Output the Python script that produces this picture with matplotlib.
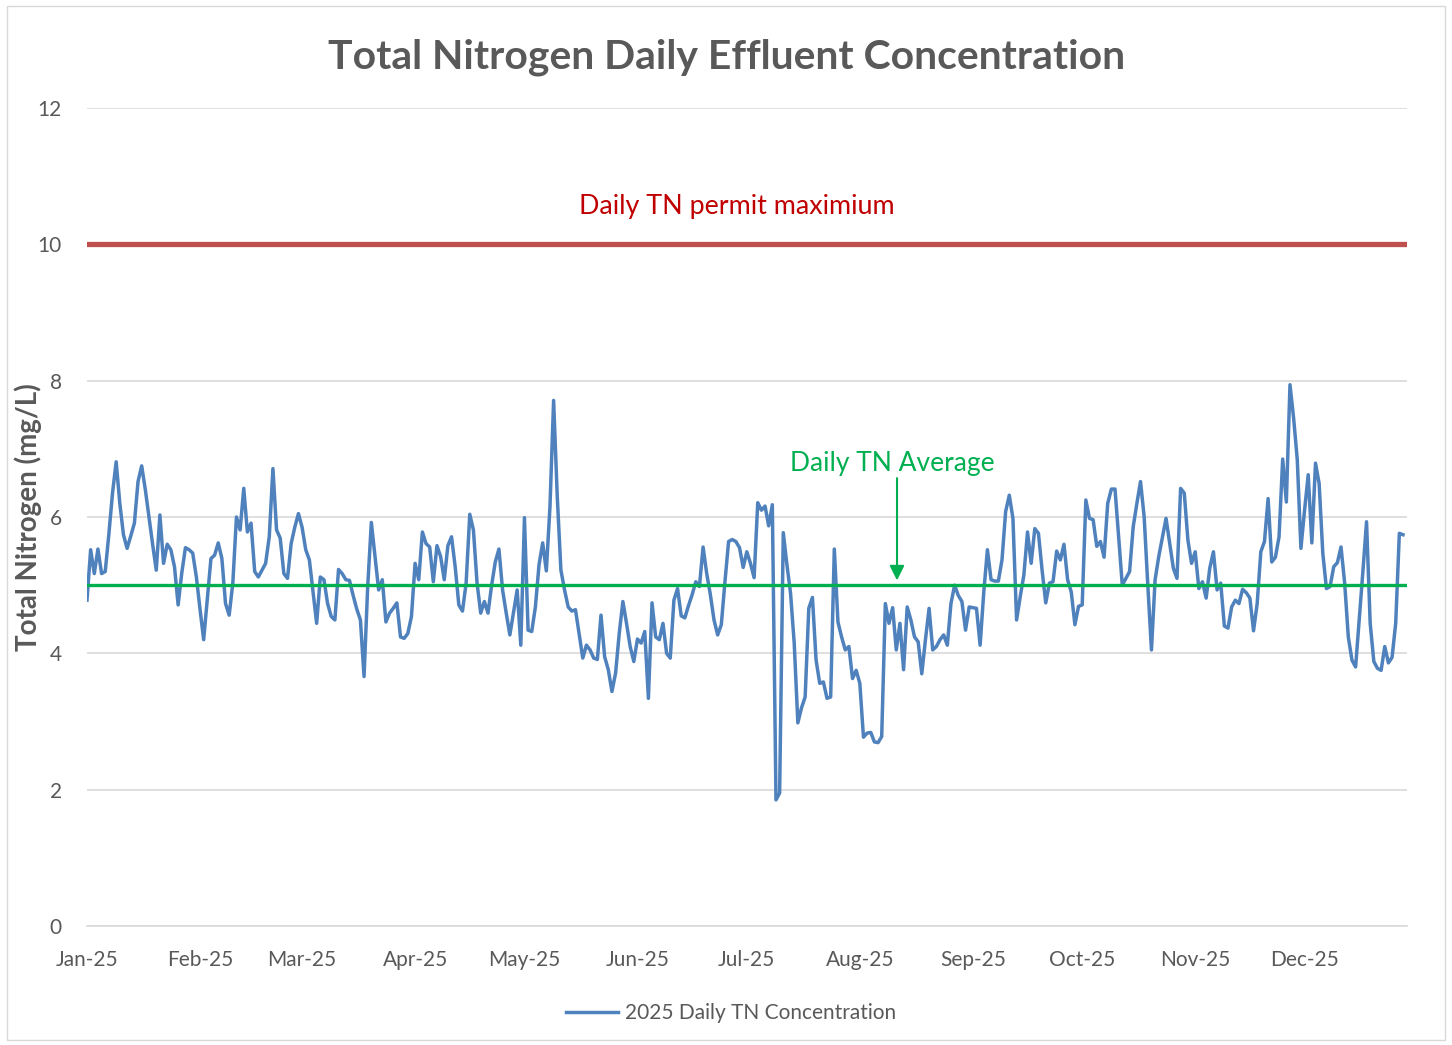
import matplotlib.pyplot as plt
import matplotlib.dates as mdates
from matplotlib.patches import Rectangle
import pandas as pd

# daily total nitrogen effluent concentration (mg/L), starting Jan 1 2025
tn_values = [
    4.78, 5.52, 5.17, 5.53, 5.17, 5.20, 5.75, 6.35, 6.81, 6.20,
    5.74, 5.54, 5.72, 5.91, 6.52, 6.75, 6.40, 6.00, 5.60, 5.22,
    6.03, 5.32, 5.60, 5.52, 5.27, 4.71, 5.18, 5.55, 5.52, 5.47,
    5.12, 4.65, 4.20, 4.80, 5.39, 5.44, 5.62, 5.39, 4.73, 4.56,
    5.03, 6.00, 5.81, 6.42, 5.78, 5.91, 5.20, 5.12, 5.22, 5.32,
    5.71, 6.71, 5.81, 5.69, 5.17, 5.10, 5.61, 5.85, 6.05, 5.85,
    5.52, 5.37, 4.90, 4.44, 5.12, 5.08, 4.73, 4.54, 4.49, 5.23,
    5.17, 5.08, 5.07, 4.85, 4.65, 4.49, 3.66, 4.98, 5.92, 5.42,
    4.93, 5.08, 4.46, 4.59, 4.66, 4.74, 4.24, 4.22, 4.29, 4.54,
    5.32, 5.08, 5.78, 5.61, 5.56, 5.05, 5.58, 5.42, 5.08, 5.58,
    5.71, 5.27, 4.71, 4.62, 5.03, 6.04, 5.81, 5.03, 4.59, 4.76,
    4.59, 5.00, 5.34, 5.53, 4.93, 4.59, 4.27, 4.60, 4.93, 4.12,
    5.99, 4.34, 4.32, 4.68, 5.30, 5.62, 5.21, 6.15, 7.71, 6.30,
    5.22, 4.93, 4.68, 4.62, 4.64, 4.29, 3.93, 4.12, 4.05, 3.93,
    3.91, 4.56, 3.95, 3.76, 3.44, 3.71, 4.29, 4.76, 4.44, 4.10,
    3.88, 4.21, 4.15, 4.32, 3.34, 4.74, 4.24, 4.20, 4.44, 4.00,
    3.93, 4.78, 4.95, 4.55, 4.52, 4.70, 4.86, 5.05, 4.98, 5.56,
    5.17, 4.86, 4.49, 4.27, 4.42, 5.05, 5.64, 5.67, 5.64, 5.55,
    5.26, 5.49, 5.32, 5.11, 6.21, 6.10, 6.16, 5.87, 6.18, 1.85,
    1.95, 5.77, 5.30, 4.88, 4.15, 2.98, 3.20, 3.36, 4.66, 4.82,
    3.90, 3.56, 3.58, 3.34, 3.36, 5.53, 4.46, 4.24, 4.05, 4.10,
    3.63, 3.75, 3.56, 2.77, 2.83, 2.84, 2.70, 2.69, 2.78, 4.73,
    4.44, 4.67, 4.05, 4.44, 3.76, 4.68, 4.49, 4.24, 4.17, 3.70,
    4.20, 4.66, 4.05, 4.10, 4.20, 4.27, 4.12, 4.73, 5.00, 4.85,
    4.76, 4.34, 4.68, 4.67, 4.66, 4.12, 4.90, 5.52, 5.08, 5.06,
    5.06, 5.37, 6.08, 6.32, 5.98, 4.49, 4.83, 5.15, 5.78, 5.32,
    5.83, 5.76, 5.22, 4.74, 5.03, 5.05, 5.50, 5.37, 5.60, 5.08,
    4.90, 4.42, 4.69, 4.71, 6.25, 5.98, 5.96, 5.57, 5.64, 5.41,
    6.20, 6.41, 6.41, 5.70, 5.00, 5.10, 5.20, 5.86, 6.20, 6.52,
    6.00, 5.00, 4.05, 5.08, 5.42, 5.70, 5.98, 5.61, 5.25, 5.10,
    6.42, 6.35, 5.66, 5.32, 5.49, 4.95, 5.05, 4.81, 5.25, 5.49,
    4.93, 5.03, 4.40, 4.37, 4.68, 4.78, 4.73, 4.94, 4.89, 4.81,
    4.33, 4.73, 5.49, 5.64, 6.27, 5.34, 5.41, 5.71, 6.85, 6.22,
    7.94, 7.45, 6.84, 5.54, 6.10, 6.62, 5.62, 6.79, 6.49, 5.47,
    4.95, 4.98, 5.27, 5.33, 5.56, 5.03, 4.24, 3.90, 3.80, 4.50,
    5.20, 5.93, 4.44, 3.88, 3.78, 3.75, 4.10, 3.86, 3.94, 4.44,
    5.76, 5.74,
]
permit_max = 10
tn_average = 5.0

dates = pd.date_range('2025-01-01', periods=len(tn_values), freq='D')
start = pd.Timestamp('2025-01-01')

gray = '#595959'
plt.rcParams['font.family'] = ['Lato', 'DejaVu Sans']

fig = plt.figure(figsize=(14.52, 10.45), dpi=100)
ax = fig.add_axes([87 / 1452, 1 - 926 / 1045, 1320 / 1452, 818 / 1045])

# outer chart border
fig.patches.append(Rectangle((7 / 1452, 5 / 1045), 1438 / 1452, 1034 / 1045,
                             transform=fig.transFigure, fill=False,
                             edgecolor='#D9D9D9', linewidth=1))

ax.plot(dates, tn_values, color='#4F81BD', linewidth=2.5,
        label='2025 Daily TN Concentration', zorder=3)
ax.axhline(permit_max, color='#C0504D', linewidth=3.8, zorder=2)
ax.axhline(tn_average, color='#00B050', linewidth=2.4, zorder=4)

ax.text(start + pd.Timedelta(days=178.3), 10.56, 'Daily TN permit maximium',
        color='#C00000', fontsize=19.4, ha='center', va='center')
ax.text(start + pd.Timedelta(days=220.8), 6.78, 'Daily TN Average',
        color='#00B050', fontsize=19, ha='center', va='center')
arrow_x = start + pd.Timedelta(days=222.2)
ax.annotate('', xy=(arrow_x, 5.07), xytext=(arrow_x, 6.57),
            arrowprops=dict(arrowstyle='-|>', color='#00B050', lw=1.5,
                            mutation_scale=22, shrinkA=0, shrinkB=0))

ax.set_ylim(0, 12)
ax.set_yticks(range(0, 13, 2))
ax.set_xlim(start, start + pd.Timedelta(days=362.1))
ax.xaxis.set_major_locator(mdates.MonthLocator())
ax.xaxis.set_major_formatter(mdates.DateFormatter('%b-%y'))
ax.grid(axis='y', color='#D9D9D9', linewidth=1.2)
ax.set_axisbelow(True)
for side in ['top', 'right', 'left']:
    ax.spines[side].set_visible(False)
ax.spines['bottom'].set_color('#D9D9D9')
ax.spines['bottom'].set_linewidth(1.2)
ax.tick_params(length=0, labelsize=15, labelcolor=gray)
ax.tick_params(axis='x', pad=17)
ax.tick_params(axis='y', pad=18)

ax.set_ylabel('Total Nitrogen (mg/L)', fontsize=20, fontweight='bold',
              color=gray)
ax.yaxis.set_label_coords(-0.034, 0.5)
fig.suptitle('Total Nitrogen Daily Effluent Concentration', fontsize=29.4,
             fontweight='bold', color=gray, x=727 / 1452, y=1 - 57 / 1045,
             va='center')

fig.legend(loc='center', bbox_to_anchor=(731 / 1452, 1 - 1013 / 1045),
           frameon=False, fontsize=15, labelcolor=gray, handlelength=2.5,
           handletextpad=0.3)

fig.savefig('out.png', dpi=100)
